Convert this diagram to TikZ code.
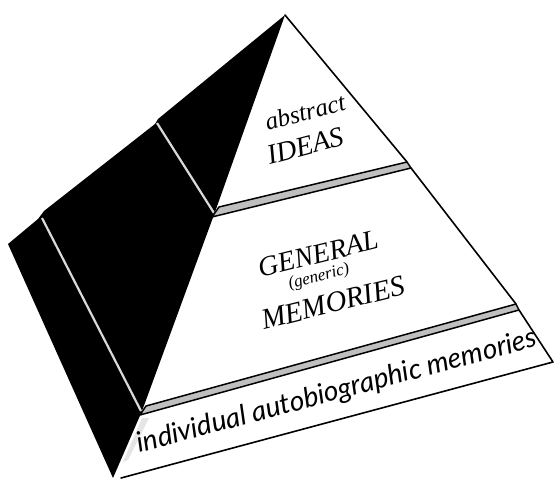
\documentclass[tikz,border=0pt]{standalone}
\usepackage{fontspec}
\newfontfamily\serifit{Liberation Serif}
\newfontfamily\sansit{Lato}
\begin{document}
\begin{tikzpicture}[x=1pt,y=1pt]
\tikzset{
  outline/.style={draw=black, line width=1.6pt, line join=round, line cap=round},
  darkface/.style={fill=black},
  bandfill/.style={fill=gray!50, draw=black, line width=1.5pt, line join=round},
  divider/.style={draw=gray!30, line width=2.2pt},
  shade/.style={fill=gray!20},
  lbl/.style={inner sep=0pt},
}
\useasboundingbox (0,0) rectangle (556,-479);
% key points (pixels, y measured downward)
\coordinate (A) at (285,-15);
\coordinate (B1UL) at (219,-207);
\coordinate (B1UR) at (407,-162);
\coordinate (B1LR) at (411,-168);
\coordinate (B1LL) at (212,-217);
\coordinate (B2UL) at (146,-406);
\coordinate (B2UR) at (516,-304);
\coordinate (B2LR) at (519,-310);
\coordinate (B2LL) at (140,-415);
\coordinate (BR) at (553,-362);
\coordinate (BL) at (121,-478);
\coordinate (Tip) at (113,-478);
\coordinate (R1) at (215,-212);
\coordinate (R2) at (142,-411);
\coordinate (L1) at (158,-119);
\coordinate (L2) at (155,-124);
\coordinate (L3) at (44,-211);
\coordinate (L4) at (38,-219);
\coordinate (L5) at (8,-244);
\coordinate (D1a) at (157,-123);
\coordinate (D1b) at (214,-213);
\coordinate (D2a) at (42,-218);
\coordinate (D2b) at (141,-411);
\coordinate (S1) at (142,-418);
\coordinate (S2) at (149,-418);
\coordinate (S3) at (128,-460);
\coordinate (S4) at (123,-462);

% dark left face
\fill[darkface] (A) -- (L1) -- (L2) -- (L3) -- (L4) -- (L5) -- (Tip) -- (R2) -- (R1) -- cycle;
\draw[divider] (D1a) -- (D1b);
\draw[divider] (D2a) -- (D2b);

% light shading near the lower ridge
\fill[shade] (S1) -- (S2) -- (S3) -- (S4) -- cycle;

% right face outlines
\draw[outline] (A) -- (B1UR);
\draw[outline] (B1LR) -- (B2UR);
\draw[outline] (B2LR) -- (BR) -- (BL);

% bands
\filldraw[bandfill] (B1UL) -- (B1UR) -- (B1LR) -- (B1LL) -- cycle;
\filldraw[bandfill] (B2UL) -- (B2UR) -- (B2LR) -- (B2LL) -- cycle;

% labels (rotated along the tiers)
\node[lbl, rotate=15, font=\serifit\itshape\fontsize{25}{25}\selectfont] (abs) at (305,-112) {abstract};
\node[lbl, rotate=15, font=\serifit\itshape\fontsize{28}{28}\selectfont] (ideas) at (305,-146) {IDEAS};
\node[lbl, rotate=14, font=\serifit\itshape\fontsize{28}{28}\selectfont] (gen) at (318,-254) {GENERAL};
\node[lbl, rotate=14, font=\serifit\itshape\fontsize{17}{17}\selectfont] (generic) at (319,-277) {(generic)};
\node[lbl, rotate=14, font=\serifit\itshape\fontsize{29}{29}\selectfont] (mem) at (333,-303) {MEMORIES};
\node[lbl, rotate=15, font=\sansit\itshape\fontsize{28}{28}\selectfont] (ind) at (337,-392) {individual autobiographic memories};
\end{tikzpicture}
\end{document}
